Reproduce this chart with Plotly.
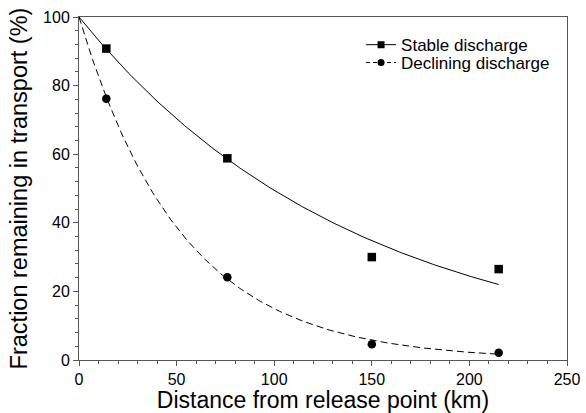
import numpy as np
import plotly.graph_objects as go

distance_km = [14, 76, 150, 215]
stable_pct = [90.8, 58.8, 30.0, 26.5]
declining_pct = [76.2, 24.1, 4.6, 2.1]

# Fitted exponential decay curves: 100 * exp(-k * distance)
stable_k = 0.00704
declining_k = 0.0190
curve_x = np.linspace(0, 215, 200)
stable_fit = 100 * np.exp(-stable_k * curve_x)
declining_fit = 100 * np.exp(-declining_k * curve_x)

x_ticks = [0, 50, 100, 150, 200, 250]
y_ticks = [0, 20, 40, 60, 80, 100]

font_family = "Liberation Sans, Arial, Helvetica, sans-serif"
axis_color = "#555555"
dash_style = "7px,4px"

fig = go.Figure()

# fitted curves
fig.add_trace(go.Scatter(x=curve_x, y=stable_fit, mode="lines",
                         line=dict(color="black", width=1), showlegend=False,
                         hoverinfo="skip"))
fig.add_trace(go.Scatter(x=curve_x, y=declining_fit, mode="lines",
                         line=dict(color="black", width=1, dash=dash_style),
                         showlegend=False, hoverinfo="skip"))

# observed points
fig.add_trace(go.Scatter(x=distance_km, y=stable_pct, mode="markers",
                         marker=dict(symbol="square", size=8.5, color="black"),
                         showlegend=False))
fig.add_trace(go.Scatter(x=distance_km, y=declining_pct, mode="markers",
                         marker=dict(symbol="circle", size=8.5, color="black"),
                         showlegend=False))

# legend entries (two legends for tight row spacing)
fig.add_trace(go.Scatter(x=[None], y=[None], mode="lines+markers",
                         name="Stable discharge", legend="legend",
                         line=dict(color="black", width=1),
                         marker=dict(symbol="square", size=7, color="black")))
fig.add_trace(go.Scatter(x=[None], y=[None], mode="lines+markers",
                         name="Declining discharge", legend="legend2",
                         line=dict(color="black", width=1, dash="4px,3px"),
                         marker=dict(symbol="circle", size=7, color="black")))

legend_common = dict(x=0.578, xanchor="left", yanchor="middle",
                     bgcolor="rgba(0,0,0,0)", font=dict(size=17),
                     itemwidth=30)

fig.update_layout(
    width=586, height=413,
    margin=dict(l=79, r=19, t=17, b=53),
    paper_bgcolor="white", plot_bgcolor="white",
    font=dict(family=font_family, size=16, color="black"),
    legend=dict(y=0.918, **legend_common),
    legend2=dict(y=0.866, **legend_common),
    xaxis=dict(
        range=[0, 250], tickvals=x_ticks, ticktext=[str(v) for v in x_ticks],
        showgrid=False, zeroline=False, automargin=False,
        showline=True, linecolor=axis_color, linewidth=1, mirror=True,
        ticks="outside", ticklen=5, tickcolor=axis_color,
        minor=dict(dtick=10, ticks="outside", ticklen=3, tickcolor=axis_color),
        title=dict(text="Distance from release point (km)", font=dict(size=23),
                   standoff=2),
        tickfont=dict(size=16),
    ),
    yaxis=dict(
        range=[0, 100], tickvals=y_ticks, ticktext=[str(v) for v in y_ticks],
        showgrid=False, zeroline=False, automargin=False,
        showline=True, linecolor=axis_color, linewidth=1, mirror=True,
        ticks="outside", ticklen=5, tickcolor=axis_color,
        minor=dict(dtick=4, ticks="outside", ticklen=3, tickcolor=axis_color),
        title=dict(text="Fraction remaining in transport (%)", font=dict(size=23.5),
                   standoff=8),
        tickfont=dict(size=16),
    ),
)

fig.write_html("out.html", config={"displayModeBar": False},
               post_script="document.body.style.margin='0';")
